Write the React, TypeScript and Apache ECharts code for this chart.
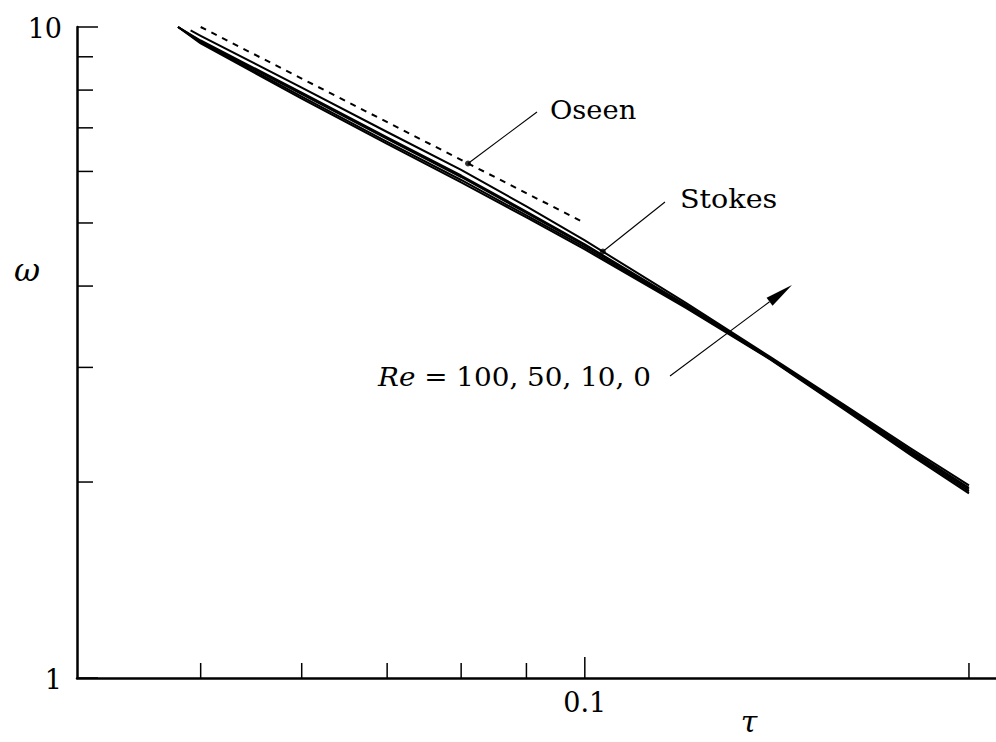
import React, { useEffect, useRef } from "react";
import * as echarts from "echarts";

// Axis ranges (log–log)
const TAU_MIN = 0.04;
const TAU_MAX = 0.21;
const OMEGA_MIN = 1;
const OMEGA_MAX = 10;

// Re = 0, 10, 50, 100 curves
const reTau = [0.048, 0.05, 0.06, 0.07, 0.08, 0.09, 0.1, 0.12, 0.14, 0.16, 0.18, 0.2];
const omegaRe0 = [10, 9.534, 7.929, 6.767, 5.914, 5.207, 4.634, 3.743, 3.094, 2.606, 2.237, 1.959];
const omegaRe10 = [10, 9.504, 7.887, 6.732, 5.883, 5.18, 4.618, 3.73, 3.089, 2.597, 2.225, 1.948];
const omegaRe50 = [10, 9.47, 7.818, 6.661, 5.821, 5.134, 4.585, 3.717, 3.083, 2.588, 2.214, 1.935];
const omegaRe100 = [10, 9.437, 7.763, 6.614, 5.77, 5.098, 4.553, 3.704, 3.078, 2.579, 2.202, 1.921];

// Stokes solution
const stokesTau = [0.0491, 0.05, 0.06, 0.07, 0.08, 0.09, 0.1, 0.12, 0.14, 0.16, 0.18, 0.2];
const stokesOmega = [9.88, 9.694, 8.067, 6.898, 6.031, 5.304, 4.7, 3.768, 3.105, 2.62, 2.253, 1.976];

// Oseen solution (dashed)
const oseenTau = [0.05, 0.1];
const oseenOmega = [10, 5];

// Tick marks and labels
const xTicks = [0.05, 0.06, 0.07, 0.08, 0.09, 0.1, 0.2];
const xTickLabels = ["", "", "", "", "", "0.1", ""];
const yTicks = [1, 2, 3, 4, 5, 6, 7, 8, 9, 10];
const yTickLabels = ["1", "", "", "", "", "", "", "", "", "10"];

// Points where the annotation leaders touch the curves
const oseenMark = [0.081, 6.17];
const stokesMark = [0.1033, 4.52];

const FONT = "DejaVu Serif";

function zip(xs: number[], ys: number[]) {
  return xs.map((x, i) => [x, ys[i]]);
}

export default function App() {
  const ref = useRef<HTMLDivElement>(null);

  useEffect(() => {
    if (!ref.current) return;
    const chart = echarts.init(ref.current, null, { renderer: "svg" });

    const curve = (name: string, data: number[][], dashed = false) => ({
      name,
      type: "line",
      data,
      showSymbol: false,
      symbol: "none",
      smooth: false,
      lineStyle: {
        color: "#000",
        width: 2,
        type: dashed ? [6, 6] : "solid",
        join: "round",
      },
      z: 3,
    });

    chart.setOption({
      animation: false,
      backgroundColor: "#fff",
      grid: { left: 77, right: 0, top: 27, bottom: 64 },
      xAxis: {
        type: "log",
        min: TAU_MIN,
        max: TAU_MAX,
        axisLine: { show: true, lineStyle: { color: "#000", width: 2.5 } },
        axisTick: { show: false },
        axisLabel: { show: false },
        splitLine: { show: false },
        minorTick: { show: false },
      },
      yAxis: {
        type: "log",
        min: OMEGA_MIN,
        max: OMEGA_MAX,
        axisLine: { show: true, lineStyle: { color: "#000", width: 2.5 } },
        axisTick: { show: false },
        axisLabel: { show: false },
        splitLine: { show: false },
        minorTick: { show: false },
      },
      series: [
        curve("Re=100", zip(reTau, omegaRe100)),
        curve("Re=50", zip(reTau, omegaRe50)),
        curve("Re=10", zip(reTau, omegaRe10)),
        curve("Re=0", zip(reTau, omegaRe0)),
        curve("Stokes", zip(stokesTau, stokesOmega)),
        curve("Oseen", zip(oseenTau, oseenOmega), true),
        {
          type: "scatter",
          data: [oseenMark, stokesMark],
          symbol: "circle",
          symbolSize: 6,
          itemStyle: { color: "#000" },
          z: 5,
        },
        {
          type: "custom",
          data: xTicks.map((v) => [v, OMEGA_MIN]),
          clip: false,
          z: 4,
          renderItem: (params: any, api: any) => {
            const i = params.dataIndex;
            const p = api.coord([api.value(0), OMEGA_MIN]);
            const label = xTickLabels[i];
            const len = label ? 21 : 15;
            const children: any[] = [
              {
                type: "line",
                shape: { x1: p[0], y1: p[1], x2: p[0], y2: p[1] - len },
                style: { stroke: "#000", lineWidth: 1.5 },
              },
            ];
            if (label) {
              children.push({
                type: "text",
                x: p[0],
                y: p[1] + 24,
                style: {
                  text: label,
                  fill: "#000",
                  fontFamily: FONT,
                  fontSize: 27,
                  align: "center",
                  verticalAlign: "middle",
                },
              });
            }
            return { type: "group", children };
          },
        },
        {
          type: "custom",
          data: yTicks.map((v) => [TAU_MIN, v]),
          clip: false,
          z: 4,
          renderItem: (params: any, api: any) => {
            const i = params.dataIndex;
            const p = api.coord([TAU_MIN, api.value(1)]);
            const label = yTickLabels[i];
            const len = label ? 21 : 16;
            const children: any[] = [
              {
                type: "line",
                shape: { x1: p[0], y1: p[1], x2: p[0] + len, y2: p[1] },
                style: { stroke: "#000", lineWidth: 1.5 },
              },
            ];
            if (label) {
              children.push({
                type: "text",
                x: p[0] - 15,
                y: p[1] + 1,
                style: {
                  text: label,
                  fill: "#000",
                  fontFamily: FONT,
                  fontSize: 27,
                  align: "right",
                  verticalAlign: "middle",
                },
              });
            }
            return { type: "group", children };
          },
        },
      ],
    });

    const po = chart.convertToPixel({ gridIndex: 0 }, oseenMark) as number[];
    const ps = chart.convertToPixel({ gridIndex: 0 }, stokesMark) as number[];

    // Re arrow
    const tail = [670, 376];
    const tip = [792, 285];
    const dx = tip[0] - tail[0];
    const dy = tip[1] - tail[1];
    const L = Math.hypot(dx, dy);
    const ux = dx / L;
    const uy = dy / L;
    const headLen = 28;
    const headHalf = 5;
    const bx = tip[0] - ux * headLen;
    const by = tip[1] - uy * headLen;

    const thin = { stroke: "#000", lineWidth: 1.1 };
    const label = (text: string, x: number, y: number, scaleX: number) => ({
      type: "text",
      x,
      y,
      scaleX,
      style: {
        text,
        fill: "#000",
        fontFamily: FONT,
        fontSize: 26,
        align: "left",
        verticalAlign: "middle",
      },
    });

    chart.setOption({
      graphic: [
        { type: "line", shape: { x1: po[0], y1: po[1], x2: 537, y2: 112 }, style: thin },
        { type: "line", shape: { x1: ps[0], y1: ps[1], x2: 665, y2: 202 }, style: thin },
        label("Oseen", 550, 110, 1.05),
        label("Stokes", 680, 199, 1.1),
        {
          type: "text",
          x: 378,
          y: 377,
          scaleX: 1.07,
          style: {
            text: "{i|Re} = 100, 50, 10, 0",
            fill: "#000",
            fontFamily: FONT,
            fontSize: 26,
            align: "left",
            verticalAlign: "middle",
            rich: {
              i: { fontFamily: FONT, fontSize: 26, fontStyle: "italic", fill: "#000" },
            },
          },
        },
        { type: "line", shape: { x1: tail[0], y1: tail[1], x2: bx, y2: by }, style: thin },
        {
          type: "polygon",
          shape: {
            points: [
              [tip[0], tip[1]],
              [bx - uy * headHalf, by + ux * headHalf],
              [bx + uy * headHalf, by - ux * headHalf],
            ],
          },
          style: { fill: "#000" },
        },
        {
          type: "text",
          x: 27,
          y: 270,
          style: {
            text: "ω",
            fill: "#000",
            fontFamily: FONT,
            fontSize: 32,
            fontStyle: "italic",
            align: "center",
            verticalAlign: "middle",
          },
        },
        {
          type: "text",
          x: 749,
          y: 721,
          style: {
            text: "τ",
            fill: "#000",
            fontFamily: FONT,
            fontSize: 30,
            fontStyle: "italic",
            align: "center",
            verticalAlign: "middle",
          },
        },
      ],
    });

    return () => chart.dispose();
  }, []);

  return (
    <div
      ref={ref}
      style={{ position: "fixed", left: 0, top: 0, width: 996, height: 742, background: "#fff" }}
    />
  );
}
